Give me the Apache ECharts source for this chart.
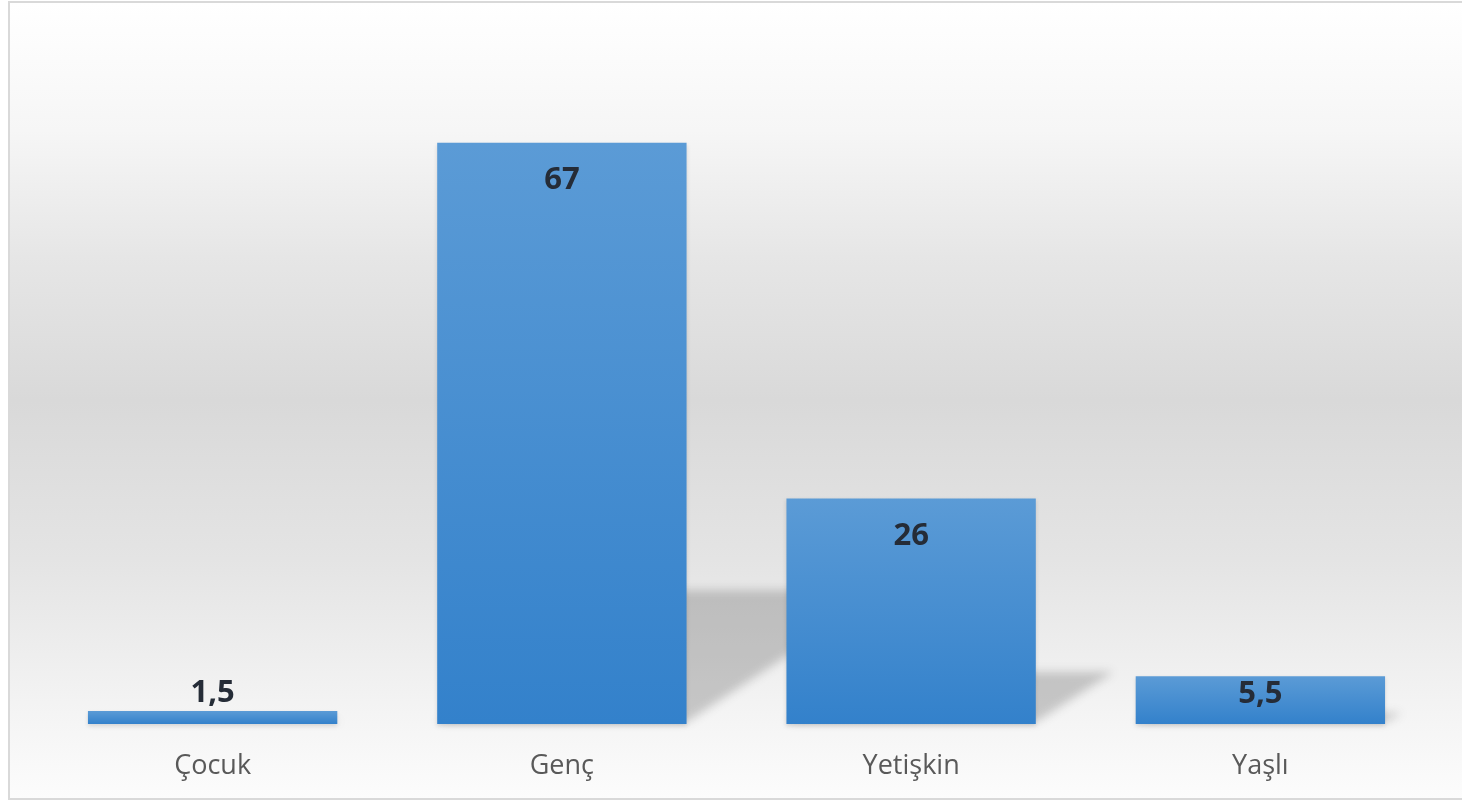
<!DOCTYPE html>
<html>
<head>
<meta charset="utf-8">
<script src="https://cdn.jsdelivr.net/npm/echarts@6/dist/echarts.min.js"></script>
<style>
  html, body { margin: 0; padding: 0; width: 1462px; height: 801px; background: #ffffff; overflow: hidden; }
  #frame {
    position: absolute; left: 8px; top: 1px; width: 1470px; height: 795px;
    border: 2px solid #d9d9d9;
    background: linear-gradient(to bottom, #ffffff 0%, #f6f6f6 16%, #e6e6e6 32%, #d9d9d9 50%, #e4e4e4 70%, #f3f3f3 88%, #fcfcfc 100%);
  }
  #chart { position: absolute; left: 0; top: 0; width: 1462px; height: 801px; }
</style>
</head>
<body>
<div id="frame"></div>
<div id="chart"></div>
<script>
const categories = ['Çocuk', 'Genç', 'Yetişkin', 'Yaşlı'];
const values = [1.5, 67, 26, 5.5];
const valueLabels = ['1,5', '67', '26', '5,5'];

const chart = echarts.init(document.getElementById('chart'), null, { renderer: 'canvas' });

const barGradient = new echarts.graphic.LinearGradient(0, 0, 0, 1, [
  { offset: 0, color: '#5b9bd6' },
  { offset: 1, color: '#3381cb' }
]);

function labelFor(i) {
  const v = values[i];
  if (v < 3) return { show: true, position: 'top', distance: 2 };
  if (v < 10) return { show: true, position: 'insideTop', distance: 2 };
  return { show: true, position: 'insideTop', distance: 22 };
}

const SHIFT = 3000;

const option = {
  animation: false,
  backgroundColor: 'transparent',
  grid: { left: 38, right: 27, top: 30, bottom: 77, containLabel: false },
  xAxis: {
    type: 'category',
    data: categories,
    axisLine: { show: false },
    axisTick: { show: false },
    axisLabel: {
      color: '#595959',
      fontSize: 27,
      fontFamily: 'Open Sans',
      margin: 29
    }
  },
  yAxis: {
    type: 'value',
    min: 0,
    max: 80,
    show: false,
    splitLine: { show: false }
  },
  series: [
    {
      type: 'custom',
      z: 1,
      silent: true,
      data: values.map((v, i) => [i, v]),
      renderItem: function (params, api) {
        const idx = api.value(0);
        const val = api.value(1);
        const base = api.coord([idx, 0]);
        const topPt = api.coord([idx, val]);
        const band = api.size([1, 0])[0];
        const half = band * (1 - 0.286) / 2;
        const h = base[1] - topPt[1];
        const dx = h * 0.344;
        const dy = h * 0.23;
        const xl = base[0] - half - SHIFT;
        const xr = base[0] + half - SHIFT;
        return {
          type: 'polygon',
          shape: {
            points: [
              [xl, base[1] - 2],
              [xr, base[1] - 2],
              [xr + dx, base[1] - dy],
              [xl + dx, base[1] - dy]
            ]
          },
          style: {
            fill: '#000000',
            shadowBlur: 10,
            shadowOffsetX: SHIFT,
            shadowColor: 'rgba(80,80,80,0.28)'
          }
        };
      }
    },
    {
      type: 'bar',
      z: 2,
      barCategoryGap: '28.6%',
      data: values.map((v, i) => ({
        value: v,
        label: Object.assign(labelFor(i), {
          formatter: () => valueLabels[i],
          color: '#252c37',
          fontSize: 31,
          fontWeight: 'bold',
          fontFamily: 'Open Sans'
        })
      })),
      itemStyle: {
        color: barGradient,
        shadowBlur: 4,
        shadowOffsetY: 2,
        shadowColor: 'rgba(0,0,0,0.12)'
      }
    }
  ]
};

chart.setOption(option);
</script>
</body>
</html>
